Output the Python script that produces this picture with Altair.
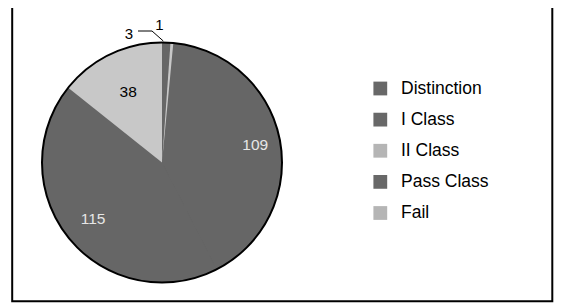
import math
import altair as alt
import pandas as pd

# ---- data ----
categories = ["Distinction", "I Class", "II Class", "Pass Class", "Fail"]
counts = [109, 115, 38, 3, 1]

# ---- styling ----
slice_colors = ["#666666", "#666666", "#c8c8c8", "#666666", "#c8c8c8"]
legend_colors = ["#686868", "#686868", "#b5b5b5", "#686868", "#b5b5b5"]
FONT = "Liberation Sans"

total = sum(counts)
start = 2 * math.pi * (counts[3] + counts[4]) / total
CX, CY, R = 154, 154.5, 120

df = pd.DataFrame({"category": categories, "count": counts,
                   "idx": list(range(len(categories)))})
one = pd.DataFrame({"k": [0]})

theta_scale = alt.Scale(domain=[0, total], range=[start, start + 2 * math.pi])
theta = alt.Theta("count:Q", stack=True, scale=theta_scale)
order = alt.Order("idx:Q", sort="ascending")

# dark base disc under the slices hides anti-aliasing seams between equal colours
base_disc = alt.Chart(one).mark_arc(
    radius=R - 0.5, theta=0, theta2=2 * math.pi, fill="#666666", strokeWidth=0
).encode(x=alt.value(CX), y=alt.value(CY))

pie = alt.Chart(df).mark_arc(radius=R, strokeWidth=0).encode(
    theta=theta,
    order=order,
    color=alt.Color("category:N", scale=alt.Scale(domain=categories, range=slice_colors), legend=None),
    x=alt.value(CX), y=alt.value(CY),
)

outline = alt.Chart(one).mark_arc(
    radius=R, theta=0, theta2=2 * math.pi, fillOpacity=0, stroke="black", strokeWidth=2
).encode(x=alt.value(CX), y=alt.value(CY))


def pie_label(cat, r, color):
    return alt.Chart(df).mark_text(
        radius=r, font=FONT, fontSize=15.5, color=color, align="center", baseline="middle"
    ).encode(
        theta=theta,
        order=order,
        text=alt.Text("count:Q"),
        opacity=alt.condition(alt.datum.category == cat, alt.value(1), alt.value(0)),
        x=alt.value(CX), y=alt.value(CY),
    )


lab_d = pie_label("Distinction", 95, "#e6e6e6")
lab_i = pie_label("I Class", 89, "#e6e6e6")
lab_ii = pie_label("II Class", 78, "#000000")

# small-slice annotations with leader line
lab3 = alt.Chart(one).mark_text(font=FONT, fontSize=15, align="center", baseline="middle").encode(
    x=alt.value(121), y=alt.value(25.5), text=alt.value(str(counts[3])))
lab1 = alt.Chart(one).mark_text(font=FONT, fontSize=15, align="center", baseline="middle").encode(
    x=alt.value(151.5), y=alt.value(17), text=alt.value(str(counts[4])))
lead1 = alt.Chart(one).mark_rule(color="black", strokeWidth=1).encode(
    x=alt.value(130), x2=alt.value(144), y=alt.value(23), y2=alt.value(23))
lead2 = alt.Chart(one).mark_rule(color="black", strokeWidth=1).encode(
    x=alt.value(144), x2=alt.value(155.3), y=alt.value(23), y2=alt.value(33))

# legend
leg_y = alt.Y("category:N", sort=categories,
              scale=alt.Scale(type="point", domain=categories, range=[80.5, 205], padding=0),
              axis=None)
leg_sq = alt.Chart(df).mark_square(size=190, opacity=1).encode(
    x=alt.value(372.3), y=leg_y,
    fill=alt.Fill("category:N", scale=alt.Scale(domain=categories, range=legend_colors), legend=None),
)
leg_txt = alt.Chart(df).mark_text(font=FONT, fontSize=17.5, align="left", baseline="middle",
                                  color="black").encode(
    x=alt.value(393), y=leg_y, text="category:N")

frame = alt.Chart(one).mark_rect(fillOpacity=0, stroke="black", strokeWidth=2).encode(
    x=alt.value(4.2), x2=alt.value(544.3), y=alt.value(-20), y2=alt.value(293.3))

chart = alt.layer(
    frame, base_disc, pie, outline, lab_d, lab_i, lab_ii, lead1, lead2, lab3, lab1, leg_sq, leg_txt
).properties(
    width=549, height=296, padding=0, autosize=alt.AutoSizeParams(type="none")
).configure_view(stroke=None)

chart.save("out.html", embed_options={"renderer": "svg", "actions": False})
